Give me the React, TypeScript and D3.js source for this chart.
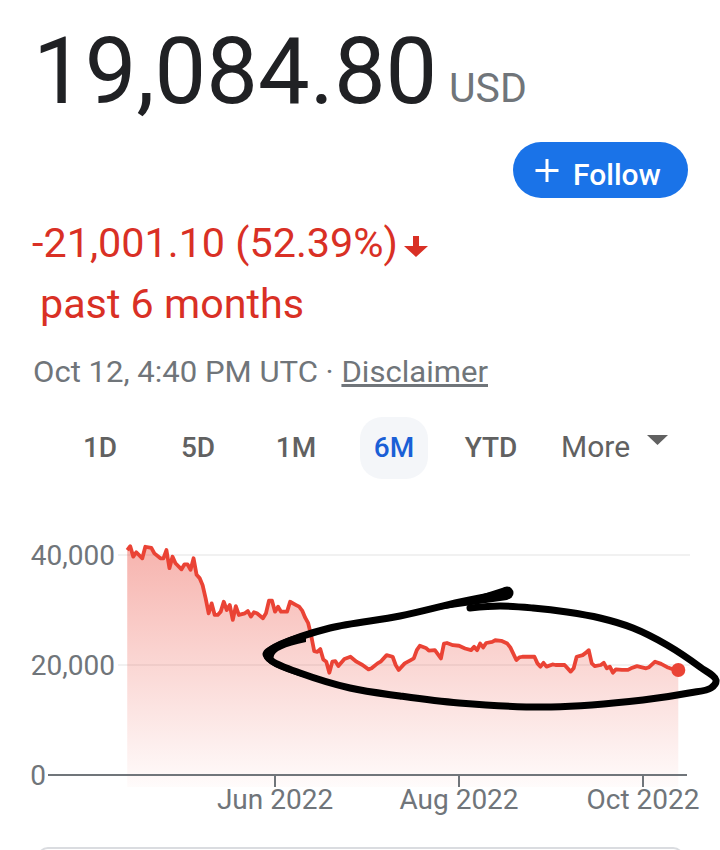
import React from "react";
import * as d3 from "d3";

// ---- data ----
const START_DATE = "2022-04-12";
const LAST_QUOTE = "2022-10-12T16:40";
const dayOffsets = [
  1, 2, 3, 4, 6, 7, 9, 10, 12, 13,
  14, 15, 16, 17, 19, 20, 21, 22, 23, 24,
  25, 26, 27, 28, 29, 30, 31, 32, 33, 34,
  35, 36, 37, 38, 40, 41, 42, 43, 44, 46,
  47, 48, 49, 50, 51, 52, 54, 55, 57, 58,
  59, 60, 61, 62, 63, 64, 65, 66, 67, 68,
  69, 70, 71, 73, 75, 77, 79, 81, 82, 84,
  85, 87, 89, 90, 91, 93, 95, 96, 97, 98,
  100, 101, 103, 105, 106, 107, 109, 111, 113, 115,
  116, 117, 118, 119, 120, 122, 123, 125, 127, 128,
  130, 131, 132, 134, 136, 137, 138, 139, 140, 142,
  143, 145, 146, 148, 149, 150, 152, 153, 154, 155,
  156, 158, 159, 160, 161, 162, 163, 165, 167, 168,
  170, 173, 174, 176, 178, 180, 181,
];
const prices = [
  40900, 41600, 39700, 40500, 39400, 41500, 41300, 40300, 39400, 39400,
  40900, 37600, 39700, 38500, 37400, 38300, 38300, 37300, 39400, 36400,
  35800, 34500, 32100, 29400, 31200, 29100, 29100, 29700, 31500, 30000,
  30900, 28200, 30700, 29100, 29400, 29800, 28800, 29600, 29400, 28500,
  29400, 31700, 31700, 29700, 30600, 29700, 29700, 31500, 30900, 30600,
  29900, 28600, 27600, 25300, 22500, 22400, 22900, 21000, 20600, 18600,
  20600, 20700, 19800, 21100, 21500, 20600, 20000, 19200, 19400, 20300,
  20600, 21800, 21500, 20000, 19100, 20300, 20900, 21200, 22700, 23500,
  23100, 22600, 22700, 21200, 23900, 24000, 23600, 23500, 23000, 22700,
  23300, 22700, 23900, 23200, 24000, 24200, 24500, 24400, 23900, 23200,
  20900, 21400, 21500, 21500, 21500, 20300, 19700, 20400, 19700, 20100,
  20000, 20000, 20000, 18800, 19400, 21500, 21800, 22200, 22700, 20300,
  19800, 20000, 20400, 19400, 19700, 18600, 19200, 19100, 19100, 19400,
  19800, 19400, 19600, 20600, 20200, 19600, 19400,
];
const LAST_PRICE = 19084.8;
const yTicks = [0, 20000, 40000];
const xTickDates = ["2022-06-01", "2022-08-01", "2022-10-01"];
const xTickLabels = ["Jun 2022", "Aug 2022", "Oct 2022"];
const tabs = ["1D", "5D", "1M", "6M", "YTD"];
const tabCenters = [100, 198, 296, 394, 491];
const ACTIVE_TAB = "6M";

// hand-drawn annotation (screen overlay, not data)
const scribble: [number, number][] = [
  [470, 608], [500, 606], [533, 608], [567, 612], [600, 618], [633, 628],
  [667, 645], [700, 667], [716, 680], [711, 688], [689, 693], [643, 700],
  [551, 707], [459, 703], [400, 696], [350, 688], [300, 673], [272, 661],
  [266, 654], [280, 645], [330, 628], [400, 616], [460, 602], [506, 593],
];

const parse = d3.timeParse("%Y-%m-%d");
const parseFull = d3.timeParse("%Y-%m-%dT%H:%M");

export default function App() {
  const start = parse(START_DATE)!;
  const last = parseFull(LAST_QUOTE)!;
  const series = dayOffsets.map((o, i) => ({ date: d3.timeDay.offset(start, o), v: prices[i] }));
  series.push({ date: last, v: LAST_PRICE });

  const x = d3.scaleTime().domain([start, last]).range([124.2, 678.3]);
  const y = d3.scaleLinear().domain([0, 40000]).range([775, 555]);

  const line = d3.line<{ date: Date; v: number }>().x((d) => x(d.date)).y((d) => y(d.v));
  const area = d3
    .area<{ date: Date; v: number }>()
    .x((d) => x(d.date))
    .y0(787)
    .y1((d) => y(d.v));
  const curve = d3.line().curve(d3.curveCatmullRom.alpha(0.5));
  const fmt = d3.format(",");
  const font = "Roboto, 'Noto Sans', sans-serif";
  const lastPt = series[series.length - 1];

  return (
    <svg
      width={720}
      height={850}
      style={{ position: "absolute", left: 0, top: 0, display: "block", fontFamily: font }}
    >
      <defs>
        <linearGradient id="fillGrad" gradientUnits="userSpaceOnUse" x1="0" y1="548" x2="0" y2="787">
          <stop offset="0" stopColor="#ea4335" stopOpacity={0.4} />
          <stop offset="1" stopColor="#ea4335" stopOpacity={0.02} />
        </linearGradient>
      </defs>
      <rect width={720} height={850} fill="#fff" />

      {/* header */}
      <text x={33} y={103} fontSize={92} fill="#202124">19,084.80</text>
      <text x={449} y={102} fontSize={41} fill="#70757a">USD</text>

      <rect x={513} y={142} width={175} height={56} rx={28} fill="#1a73e8" />
      <path d="M547 159 V182 M535.5 170.5 H558.5" stroke="#fff" strokeWidth={3} />
      <text x={573} y={185} fontSize={30} fontWeight={500} fill="#fff">Follow</text>

      <text x={32} y={257} fontSize={40} fill="#d93025" textLength={366} lengthAdjust="spacingAndGlyphs">
        -21,001.10 (52.39%)
      </text>
      <path d="M413 236 H419 V246 H428 L416 257 L404 246 H413 Z" fill="#d93025" />
      <text x={40} y={318} fontSize={40} fill="#d93025" textLength={264} lengthAdjust="spacingAndGlyphs">
        past 6 months
      </text>

      <text x={33} y={382} fontSize={30} fill="#70757a" textLength={455} lengthAdjust="spacingAndGlyphs">
        Oct 12, 4:40 PM UTC ·{" "}
        <tspan textDecoration="underline">Disclaimer</tspan>
      </text>

      {/* tabs */}
      <rect x={360} y={417} width={68} height={62} rx={22} fill="#f4f6f9" />
      {tabs.map((t, i) => (
        <text
          key={t}
          x={tabCenters[i]}
          y={457}
          fontSize={28}
          fontWeight={500}
          textAnchor="middle"
          fill={t === ACTIVE_TAB ? "#1a5fd6" : "#616161"}
        >
          {t}
        </text>
      ))}
      <text x={561} y={457} fontSize={30} fill="#616161">More</text>
      <path d="M647 435 H668 L657.5 445 Z" fill="#616161" />

      {/* chart */}
      {yTicks.filter((t) => t > 0).map((t) => (
        <line key={t} x1={118} x2={690} y1={y(t)} y2={y(t)} stroke="#f1f1f1" strokeWidth={2} />
      ))}
      <path d={area(series) || ""} fill="url(#fillGrad)" />
      {yTicks.map((t) => (
        <text key={t} x={t === 0 ? 46 : 115} y={y(t)} dy="0.35em" fontSize={28} textAnchor="end" fill="#70757a">
          {fmt(t)}
        </text>
      ))}
      <line x1={48} x2={687} y1={775} y2={775} stroke="#70757a" strokeWidth={2} />
      {xTickDates.map((d, i) => {
        const xx = x(parse(d)!);
        return (
          <g key={d}>
            <line x1={xx} x2={xx} y1={775} y2={787} stroke="#70757a" strokeWidth={2} />
            <text x={xx} y={809} fontSize={28} textAnchor="middle" fill="#70757a">
              {xTickLabels[i]}
            </text>
          </g>
        );
      })}
      <path d={line(series) || ""} fill="none" stroke="#ea4335" strokeWidth={3.8} strokeLinejoin="round" />
      <circle cx={x(lastPt.date)} cy={y(lastPt.v)} r={7} fill="#ea4335" />

      {/* hand-drawn annotation */}
      <path d={curve(scribble) || ""} fill="none" stroke="#000" strokeWidth={7} strokeLinecap="round" strokeLinejoin="round" />
      <path d="M306 632 Q221 655 306 678 Q241 655 306 642 Z" fill="#000" />
      <path d="M430 611 L505 587 Q516 593 507 600 Z" fill="#000" />
      <circle cx={507} cy={593} r={6.5} fill="#000" />

      {/* card below */}
      <rect x={38} y={848} width={645} height={30} rx={10} fill="#fff" stroke="#dadce0" strokeWidth={2} />
    </svg>
  );
}
